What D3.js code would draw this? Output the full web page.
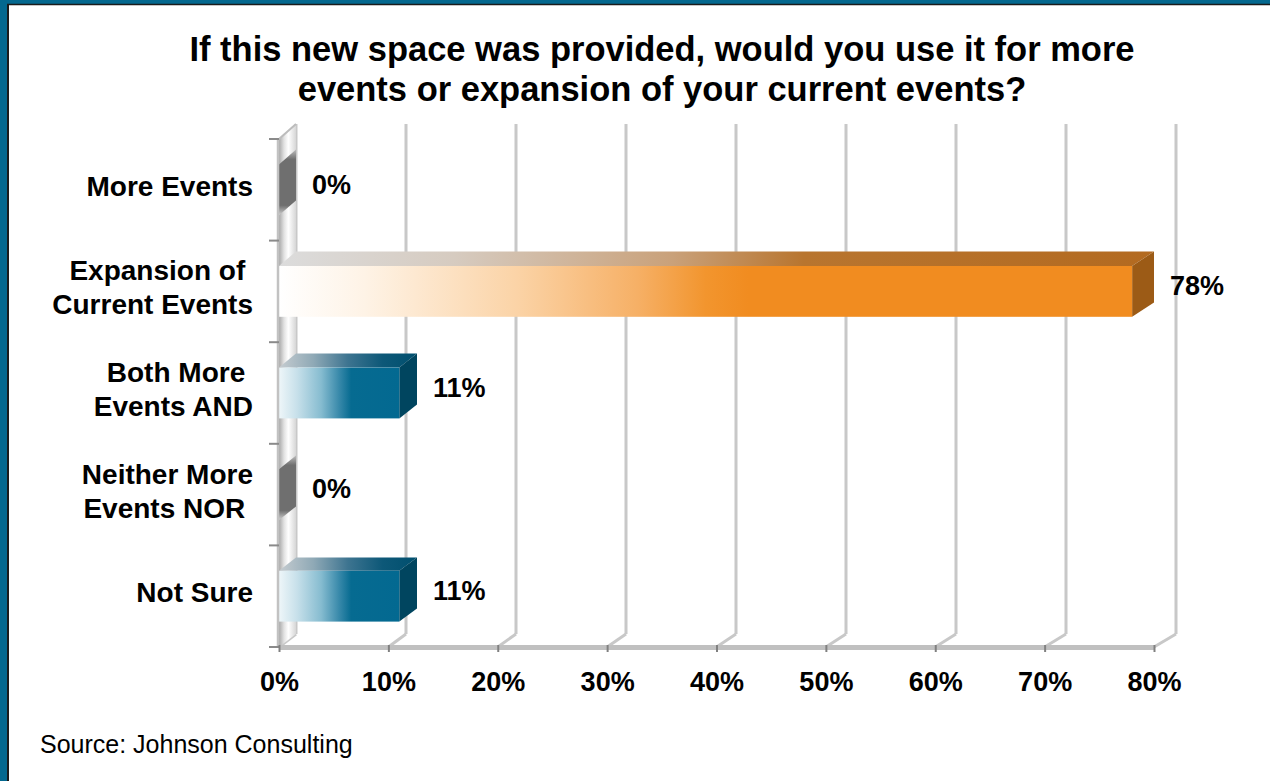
<!DOCTYPE html>
<html>
<head>
<meta charset="utf-8">
<script src="https://cdn.jsdelivr.net/npm/d3@7"></script>
<style>
  html, body { margin: 0; padding: 0; background: #ffffff; }
  svg { display: block; }
  text { font-family: "Liberation Sans", Arial, sans-serif; }
</style>
</head>
<body>
<svg id="chart" width="1270" height="781"></svg>
<script>
// ---------- data ----------
const categories = ["More Events", "Expansion of Current Events", "Both More Events AND", "Neither More Events NOR", "Not Sure"];
const categoryLines = [["More Events"], ["Expansion of ", "Current Events"], ["Both More ", "Events AND"], ["Neither More", "Events NOR "], ["Not Sure"]];
const values = [0, 78, 11, 0, 11];
const valueLabels = ["0%", "78%", "11%", "0%", "11%"];
const tickValues = [0, 10, 20, 30, 40, 50, 60, 70, 80];
const tickLabels = ["0%", "10%", "20%", "30%", "40%", "50%", "60%", "70%", "80%"];
const titleLines = ["If this new space was provided, would you use it for more", "events or expansion of your current events?"];
const sourceText = "Source: Johnson Consulting";

// ---------- setup ----------
const svg = d3.select("#chart");
const W = 1270, H = 781;

// frame
svg.append("rect").attr("x", 0).attr("y", 0).attr("width", W).attr("height", H).attr("fill", "#ffffff");
svg.append("rect").attr("x", 0).attr("y", 0).attr("width", W).attr("height", 4).attr("fill", "#04688f");
svg.append("rect").attr("x", 0).attr("y", 0).attr("width", 7).attr("height", H).attr("fill", "#04688f");
svg.append("line").attr("x1", 7).attr("x2", W).attr("y1", 4.5).attr("y2", 4.5).attr("stroke", "#1b1b1b").attr("stroke-width", 1.5);
svg.append("line").attr("x1", 8).attr("x2", 8).attr("y1", 4).attr("y2", H).attr("stroke", "#1b1b1b").attr("stroke-width", 2);

// scales: front plane and back plane (perspective)
const xFront = d3.scaleLinear().domain([0, 80]).range([279, 1154]);
const xBack = d3.scaleLinear().domain([0, 80]).range([296, 1176]);
const yFront = d3.scaleBand().domain(categories).range([139, 647]);
const yBack = d3.scaleBand().domain(categories).range([124, 634]);

// gradients
const defs = svg.append("defs");
function linGrad(id, stops, x2 = "100%", y2 = "0%") {
  const g = defs.append("linearGradient").attr("id", id)
    .attr("x1", "0%").attr("y1", "0%").attr("x2", x2).attr("y2", y2);
  stops.forEach(s => g.append("stop").attr("offset", s[0]).attr("stop-color", s[1]));
}
linGrad("orangeFront", [[0, "#ffffff"], [0.1, "#fef3e6"], [0.28, "#fbd3a6"], [0.42, "#f6b066"], [0.5, "#f2952e"], [0.55, "#f18c20"], [1, "#f18c20"]]);
linGrad("orangeTop", [[0, "#dcdcdc"], [0.2, "#d6cbc0"], [0.45, "#c9a17a"], [0.6, "#b8752f"], [1, "#b36a20"]]);
linGrad("blueFront", [[0, "#eef6f9"], [0.15, "#c7e0ea"], [0.35, "#86bcd0"], [0.5, "#3889aa"], [0.6, "#066b91"], [1, "#036991"]]);
linGrad("blueTop", [[0, "#c6ccd0"], [0.25, "#8fa9b6"], [0.5, "#3d7490"], [0.75, "#0d5878"], [1, "#004f6e"]]);
linGrad("wallGrad", [[0, "#a9a9a9"], [0.3, "#e2e2e2"], [0.55, "#ffffff"], [1, "#d6d6d6"]]);
linGrad("zeroSide", [[0, "#bdbdbd"], [0.15, "#6f6f6f"], [0.85, "#6f6f6f"], [1, "#d0d0d0"]], "0%", "100%");

const gridColor = "#c8c8c8";
const floorFrontY = yFront.range()[1];
const floorBackY = yBack.range()[1];
const topFrontY = yFront.range()[0];
const topBackY = yBack.range()[0];

// back wall gridlines
svg.append("g").selectAll("line").data(tickValues).join("line")
  .attr("x1", d => xBack(d)).attr("x2", d => xBack(d))
  .attr("y1", topBackY).attr("y2", floorBackY)
  .attr("stroke", gridColor).attr("stroke-width", 3);

// floor diagonal lines
svg.append("g").selectAll("line").data(tickValues).join("line")
  .attr("x1", d => xFront(d)).attr("y1", floorFrontY)
  .attr("x2", d => xBack(d)).attr("y2", floorBackY)
  .attr("stroke", gridColor).attr("stroke-width", 3);

// left wall
svg.append("polygon")
  .attr("points", [[xFront(0), topFrontY], [xBack(0), topBackY], [xBack(0), floorBackY], [xFront(0), floorFrontY]].map(p => p.join(",")).join(" "))
  .attr("fill", "url(#wallGrad)");
svg.append("line")
  .attr("x1", xFront(0)).attr("y1", topFrontY).attr("x2", xBack(0)).attr("y2", topBackY)
  .attr("stroke", "#bcbcbc").attr("stroke-width", 2);

// bars
const maxV = d3.max(values);
function barKind(v) { return v === 0 ? "zero" : (v === maxV ? "orange" : "blue"); }
const sideColor = { orange: "#9c5b16", blue: "#00455f", zero: "url(#zeroSide)" };

const bars = svg.append("g").selectAll("g").data(categories).join("g");
bars.each(function(c, i) {
  const g = d3.select(this);
  const v = values[i];
  const kind = barKind(v);
  const bw = yFront.bandwidth(), bbw = yBack.bandwidth();
  const y0 = yFront(c) + bw * 0.25, y1 = y0 + bw * 0.5;
  const yb0 = yBack(c) + bbw * 0.25, yb1 = yb0 + bbw * 0.5;
  const xf0 = xFront(0), xf = xFront(v), xb0 = xBack(0), xb = xBack(v);
  if (kind !== "zero") {
    g.append("polygon")
      .attr("points", [[xf0, y0], [xf, y0], [xb, yb0], [xb0, yb0]].map(p => p.join(",")).join(" "))
      .attr("fill", `url(#${kind}Top)`);
  }
  g.append("polygon")
    .attr("points", [[xf, y0], [xb, yb0], [xb, yb1], [xf, y1]].map(p => p.join(",")).join(" "))
    .attr("fill", sideColor[kind]);
  if (kind !== "zero") {
    g.append("rect")
      .attr("x", xf0).attr("y", y0).attr("width", xf - xf0).attr("height", y1 - y0)
      .attr("fill", `url(#${kind}Front)`);
  }
});

// left front edge and category ticks
svg.append("line")
  .attr("x1", xFront(0) - 1).attr("x2", xFront(0) - 1).attr("y1", topFrontY).attr("y2", floorFrontY)
  .attr("stroke", "#c2c2c2").attr("stroke-width", 2.5);
const boundaries = categories.map(c => yFront(c)).concat([floorFrontY]);
svg.append("g").selectAll("line").data(boundaries).join("line")
  .attr("x1", xFront(0) - 10).attr("x2", xFront(0)).attr("y1", d => d).attr("y2", d => d)
  .attr("stroke", "#8a8a8a").attr("stroke-width", 2);

// bottom axis (front floor edge)
const xAxis = d3.axisBottom(xFront)
  .tickValues(tickValues)
  .tickFormat((d, i) => tickLabels[i])
  .tickSize(5).tickSizeOuter(0).tickPadding(20);
const ax = svg.append("g").attr("transform", `translate(0,${floorFrontY})`).call(xAxis);
ax.select(".domain").attr("stroke", "#c0c0c0").attr("stroke-width", 5);
ax.selectAll(".tick line").attr("stroke", "#808080").attr("stroke-width", 2).attr("y1", -2);
ax.selectAll(".tick text")
  .attr("fill", "#000").attr("font-size", 27).attr("font-weight", "bold")
  .attr("font-family", "'Liberation Sans', Arial, sans-serif");

// category labels
const lineH = 34;
const catG = svg.append("g").selectAll("text").data(categories).join("text")
  .attr("text-anchor", "end")
  .attr("font-size", 28).attr("font-weight", "bold").attr("fill", "#000")
  .style("white-space", "pre")
  .attr("transform", c => `translate(253, ${yFront(c) + yFront.bandwidth() / 2 - 4})`);
catG.each(function(c, i) {
  const lines = categoryLines[i];
  const t = d3.select(this);
  const off = -(lines.length - 1) * lineH / 2;
  lines.forEach((ln, k) => {
    t.append("tspan").attr("x", 0).attr("y", off + k * lineH).attr("dy", "0.36em").text(ln);
  });
});

// value labels
svg.append("g").selectAll("text").data(categories).join("text")
  .attr("x", (c, i) => xBack(values[i]) + 16)
  .attr("y", c => yFront(c) + yFront.bandwidth() / 2 - 6)
  .attr("dy", "0.36em")
  .attr("font-size", 27).attr("font-weight", "bold").attr("fill", "#000")
  .text((c, i) => valueLabels[i]);

// title
svg.append("g").selectAll("text").data(titleLines).join("text")
  .attr("x", 662).attr("y", (d, i) => 61 + i * 40)
  .attr("text-anchor", "middle")
  .attr("font-size", 34.5).attr("font-weight", "bold").attr("fill", "#000")
  .text(d => d);

// source
svg.append("text").attr("x", 40).attr("y", 753)
  .attr("font-size", 25).attr("fill", "#000")
  .text(sourceText);
</script>
</body>
</html>
